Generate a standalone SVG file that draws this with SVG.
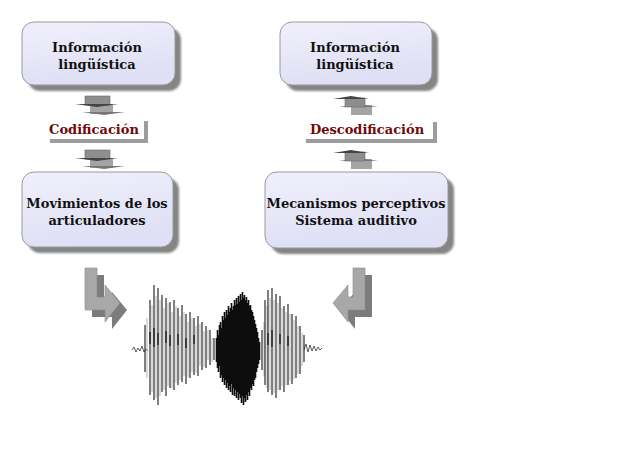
<svg xmlns="http://www.w3.org/2000/svg" xmlns:xlink="http://www.w3.org/1999/xlink" width="640" height="453" viewBox="0 0 640 453">
<defs>
<linearGradient id="boxg" x1="0" y1="0" x2="0.3" y2="1">
<stop offset="0" stop-color="#f0f0fc"/>
<stop offset="1" stop-color="#dfdff5"/>
</linearGradient>
<filter id="blur" x="-10%" y="-10%" width="120%" height="120%"><feGaussianBlur stdDeviation="1"/></filter>
<g id="downArrow">
<rect x="15" y="9" width="23" height="9" fill="#a4a4a4"/>
<polygon points="7,16 50,16 29,19" fill="#777"/>
<rect x="10" y="0" width="25" height="9" fill="#8e8e8e" stroke="#6a6a6a" stroke-width="0.6"/>
<polygon points="0,8 43,8 22,11" fill="#444"/>
</g>
<g id="upArrow">
<rect x="18" y="10" width="21" height="10" fill="#a4a4a4"/>
<polygon points="6,12 45,12 25,9" fill="#777"/>
<rect x="12" y="3" width="20" height="9" fill="#8e8e8e" stroke="#6a6a6a" stroke-width="0.6"/>
<polygon points="0,4 36,4 18,1" fill="#444"/>
</g>
</defs>
<style>
.box{fill:url(#boxg);stroke:#9a9a9a;stroke-width:1}
.shadow{fill:#858585}
.t{font-family:"DejaVu Serif","Liberation Serif",serif;font-weight:bold;font-size:13px;fill:#111;text-anchor:middle}
.lbl{font-family:"DejaVu Serif","Liberation Serif",serif;font-weight:bold;font-size:13px;fill:#6e0a0a;text-anchor:middle}
.lshadow{fill:#9c9c9c}
.big{fill:#a8a8a8;stroke:#8a8a8a;stroke-width:0.6}
.bigs{fill:#7c7c7c}
</style>
<rect width="640" height="453" fill="#ffffff"/>

<g id="node-info-left">
<rect class="shadow" x="28" y="28" width="153" height="63" rx="12" filter="url(#blur)"/>
<rect class="box" x="22" y="22" width="153" height="63" rx="12"/>
<text class="t" x="97" y="52">Información</text>
<text class="t" x="97" y="69">lingüística</text>
</g>

<g id="node-info-right">
<rect class="shadow" x="286" y="28" width="152" height="63" rx="12" filter="url(#blur)"/>
<rect class="box" x="280" y="22" width="152" height="63" rx="12"/>
<text class="t" x="355" y="52">Información</text>
<text class="t" x="355" y="69">lingüística</text>
</g>

<g id="node-movimientos">
<rect class="shadow" x="28" y="178" width="151" height="75" rx="12" filter="url(#blur)"/>
<rect class="box" x="22" y="172" width="151" height="75" rx="12"/>
<text class="t" x="97" y="208">Movimientos de los</text>
<text class="t" x="97" y="225">articuladores</text>
</g>

<g id="node-mecanismos">
<rect class="shadow" x="271" y="178" width="183" height="76" rx="12" filter="url(#blur)"/>
<rect class="box" x="265" y="172" width="183" height="76" rx="12"/>
<text class="t" x="356" y="208">Mecanismos perceptivos</text>
<text class="t" x="356" y="225">Sistema auditivo</text>
</g>

<g id="label-codificacion">
<rect class="lshadow" x="50" y="121" width="98" height="22"/>
<rect x="46" y="117" width="98" height="22" fill="#ffffff"/>
<text class="lbl" x="94" y="134">Codificación</text>
</g>

<g id="label-descodificacion">
<rect class="lshadow" x="306" y="122" width="131" height="21"/>
<rect x="302" y="118" width="131" height="21" fill="#ffffff"/>
<text class="lbl" x="367" y="134">Descodificación</text>
</g>

<g id="connectors">
<use xlink:href="#downArrow" transform="translate(75,96)"/>
<use xlink:href="#downArrow" transform="translate(75,150)"/>
<use xlink:href="#upArrow" transform="translate(333,95)"/>
<use xlink:href="#upArrow" transform="translate(333,149)"/>
<polygon class="bigs" points="92,275 104,275 104,304 112,304 112,292 127,310 112,329 112,317 92,317"/>
<polygon class="big" points="85,268 97,268 97,297 105,297 105,285 120,303 105,322 105,310 85,310"/>
<polygon class="bigs" points="372,275 360,275 360,304 355,304 355,292 340,310 355,329 355,317 372,317"/>
<polygon class="big" points="365,268 353,268 353,297 348,297 348,285 333,303 348,322 348,310 365,310"/>
</g>

<g id="waveform">
<path fill="none" stroke="#333" stroke-width="0.8" d="M132,350 l2,-3 l2,5 l2,-4 l2,3 l2,-5 l2,6 l2,-3 l2,2 M304,350 l2,-6 l2,8 l2,-7 l2,6 l2,-5 l2,5 l2,-4 l2,3 l2,-2"/>
<path fill="none" stroke="#aaa" stroke-width="0.9" d="M147,318V378 M152,305V392 M156,296V398 M160,300V396 M164,308V390 M168,303V386 M172,312V388 M176,306V383 M180,316V380 M184,312V376 M188,322V377 M192,318V372 M196,326V373 M200,324V366 M204,331V367 M208,330V360 M212,338V362 M264,322V376 M267,305V388 M270,298V390 M274,300V393 M278,303V390 M282,308V386 M286,312V385 M290,314V381 M294,320V379 M298,326V374 M302,333V366"/>
<path fill="none" stroke="#1a1a1a" stroke-width="1.1" d="M145,325V372 M150,300V395 M154,285V400 M158,288V405 M162,295V392 M166,298V396 M170,302V388 M174,300V390 M178,308V385 M182,305V382 M186,314V384 M190,312V378 M194,318V375 M198,316V376 M202,322V370 M206,326V368 M210,330V365 M214,338V360 M262,330V370 M265,300V385 M268,290V392 M272,288V395 M276,294V398 M280,296V390 M284,306V392 M288,304V385 M292,314V384 M296,316V378 M300,326V374 M304,335V362"/>
<path fill="none" stroke="#222" stroke-width="1.4" d="M150,332V344 M154,328V347 M158,333V345 M166,331V343 M170,335V346 M178,334V345 M186,338V348 M194,335V344 M268,333V345 M272,330V347 M280,334V344 M288,336V346"/>
<path fill="none" stroke="#0d0d0d" stroke-width="1.6" d="M216.5,338V362 M217.5,330V368 M218.5,335V372 M219.5,325V366 M220.5,322V378 M221.5,328V375 M222.5,316V382 M223.5,320V378 M224.5,312V385 M225.5,318V380 M226.5,310V388 M227.5,315V383 M228.5,306V390 M229.5,312V386 M230.5,308V392 M231.5,303V384 M232.5,310V395 M233.5,306V388 M234.5,300V396 M235.5,305V390 M236.5,298V398 M237.5,304V392 M238.5,296V400 M239.5,302V394 M240.5,294V398 M241.5,300V403 M242.5,292V396 M243.5,298V405 M244.5,295V398 M245.5,300V402 M246.5,297V395 M247.5,303V400 M248.5,300V392 M249.5,306V396 M250.5,305V388 M251.5,310V390 M252.5,312V384 M253.5,316V386 M254.5,320V380 M255.5,324V378 M256.5,328V372 M257.5,332V368 M258.5,338V364 M259.5,342V360"/>
<polygon fill="#0d0d0d" points="218,350 222,330 228,320 234,312 240,308 246,310 250,318 254,330 257,350 254,368 250,378 246,386 240,388 234,384 228,378 222,368"/>
</g>
</svg>
